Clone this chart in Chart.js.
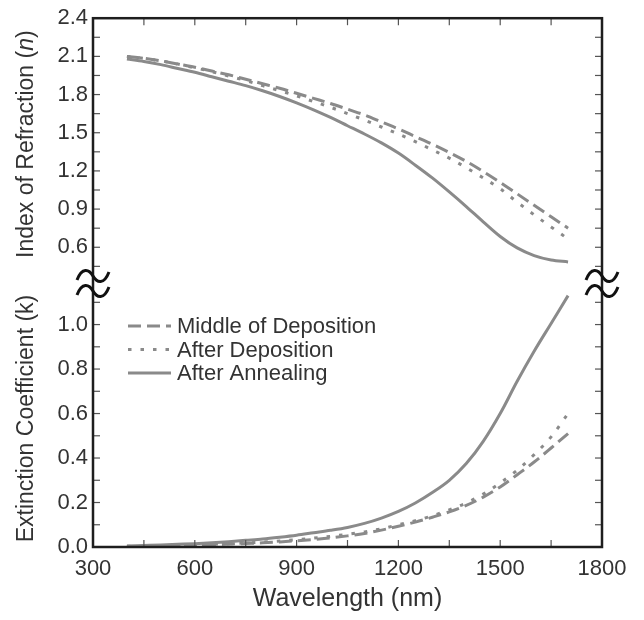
<!DOCTYPE html>
<html>
<head>
<meta charset="utf-8">
<script src="https://cdn.jsdelivr.net/npm/chart.js@4.4.1/dist/chart.umd.min.js"></script>
<style>
  html, body { margin: 0; padding: 0; background: #fff; }
  #wrap { width: 644px; height: 620px; }
</style>
</head>
<body>
<div id="wrap"><canvas id="chart" width="644" height="620"></canvas></div>
<script>
// Wavelength samples (nm) shared by every curve
const wavelength = [400, 450, 500, 550, 600, 650, 700, 750, 800, 850, 900, 950, 1000, 1050,
  1100, 1150, 1200, 1250, 1300, 1350, 1400, 1450, 1500, 1550, 1600, 1650, 1700];

// Index of refraction (n)
const nMiddle   = [2.10, 2.085, 2.065, 2.04, 2.015, 1.985, 1.955, 1.92, 1.885, 1.85, 1.81, 1.77, 1.73, 1.685,
  1.64, 1.585, 1.53, 1.47, 1.41, 1.345, 1.275, 1.195, 1.11, 1.02, 0.93, 0.84, 0.75];
const nAfterDep = [2.10, 2.085, 2.065, 2.04, 2.01, 1.98, 1.945, 1.91, 1.87, 1.83, 1.79, 1.745, 1.70, 1.65,
  1.60, 1.545, 1.49, 1.43, 1.365, 1.30, 1.225, 1.145, 1.06, 0.955, 0.855, 0.76, 0.665];
const nAnnealed = [2.08, 2.06, 2.035, 2.005, 1.975, 1.94, 1.905, 1.87, 1.83, 1.785, 1.735, 1.68, 1.62, 1.555,
  1.49, 1.42, 1.34, 1.245, 1.145, 1.035, 0.92, 0.80, 0.685, 0.595, 0.535, 0.50, 0.485];

// Extinction coefficient (k)
const kMiddle   = [0.002, 0.003, 0.005, 0.006, 0.008, 0.010, 0.013, 0.016, 0.019, 0.023, 0.028, 0.034, 0.041, 0.050,
  0.061, 0.076, 0.093, 0.112, 0.134, 0.158, 0.187, 0.224, 0.270, 0.325, 0.382, 0.445, 0.51];
const kAfterDep = [0.003, 0.004, 0.006, 0.008, 0.010, 0.012, 0.015, 0.018, 0.022, 0.027, 0.033, 0.040, 0.048, 0.057,
  0.068, 0.082, 0.100, 0.118, 0.140, 0.167, 0.198, 0.238, 0.288, 0.345, 0.415, 0.495, 0.60];
const kAnnealed = [0.005, 0.007, 0.009, 0.012, 0.015, 0.019, 0.024, 0.030, 0.036, 0.044, 0.053, 0.064, 0.075, 0.088,
  0.106, 0.130, 0.160, 0.198, 0.245, 0.300, 0.375, 0.475, 0.60, 0.745, 0.88, 1.005, 1.13];

const seriesLabels = ['Middle of Deposition', 'After Deposition', 'After Annealing'];

const xTicks = [300, 600, 900, 1200, 1500, 1800];
const nTicks = [0.6, 0.9, 1.2, 1.5, 1.8, 2.1, 2.4];
const kTicks = [0.0, 0.2, 0.4, 0.6, 0.8, 1.0];

/* ─── styling ─── */
const FONT = "'Liberation Sans', Arial, Helvetica, sans-serif";
const LINE_COLOR = '#8a8a8a';
const TEXT_COLOR = '#333';
const AXIS_COLOR = '#1e1e1e';
const DASHES = [[13, 6], [3.5, 9], []];

Chart.defaults.font.family = FONT;
Chart.defaults.color = TEXT_COLOR;

const toPoints = ys => wavelength.map((x, i) => ({ x, y: ys[i] }));

function makeSet(label, ys, axis, idx) {
  return {
    label,
    data: toPoints(ys),
    yAxisID: axis,
    borderColor: LINE_COLOR,
    borderWidth: 3,
    borderDash: DASHES[idx],
    borderCapStyle: 'butt',
    pointRadius: 0,
    fill: false,
    cubicInterpolationMode: 'monotone',
  };
}

const datasets = [
  makeSet(seriesLabels[0], nMiddle, 'n', 0),
  makeSet(seriesLabels[1], nAfterDep, 'n', 1),
  makeSet(seriesLabels[2], nAnnealed, 'n', 2),
  makeSet(seriesLabels[0], kMiddle, 'k', 0),
  makeSet(seriesLabels[1], kAfterDep, 'k', 1),
  makeSet(seriesLabels[2], kAnnealed, 'k', 2),
];

const fixTicks = list => scale => { scale.ticks = list.map(v => ({ value: v })); };

// frame, inward ticks, axis break, legend and the y titles
const framePlugin = {
  id: 'frame',
  afterDraw(chart) {
    const { ctx, chartArea: a, scales } = chart;
    const { x, n, k } = scales;
    ctx.save();

    const seg = (x1, y1, x2, y2) => { ctx.beginPath(); ctx.moveTo(x1, y1); ctx.lineTo(x2, y2); ctx.stroke(); };
    ctx.strokeStyle = '#555';
    ctx.lineWidth = 1.2;
    const TL = 7;

    const xStep = (xTicks[1] - xTicks[0]) / 2;
    for (let i = 1; xTicks[0] + i * xStep < xTicks[xTicks.length - 1]; i++) {
      const px = x.getPixelForValue(xTicks[0] + i * xStep);
      seg(px, a.top, px, a.top + TL);
      seg(px, a.bottom, px, a.bottom - TL);
    }
    const nStep = (nTicks[1] - nTicks[0]) / 2;
    for (let i = 1; i < 20; i++) {
      const v = nTicks[nTicks.length - 1] - i * nStep;
      if (v < n.min + 0.05) break;
      const py = n.getPixelForValue(v);
      seg(a.left, py, a.left + TL, py);
      seg(a.right, py, a.right - TL, py);
    }
    const kStep = (kTicks[1] - kTicks[0]) / 2;
    for (let i = 1; i * kStep < k.max; i++) {
      const py = k.getPixelForValue(i * kStep);
      seg(a.left, py, a.left + TL, py);
      seg(a.right, py, a.right - TL, py);
    }

    // frame
    ctx.strokeStyle = AXIS_COLOR;
    ctx.lineWidth = 2.5;
    ctx.strokeRect(a.left, a.top, a.width, a.height);

    // axis break marks
    const wave = (cx, cy) => {
      ctx.beginPath();
      ctx.moveTo(cx - 16, cy + 4);
      ctx.bezierCurveTo(cx - 11, cy - 9, cx - 4, cy - 7, cx, cy);
      ctx.bezierCurveTo(cx + 4, cy + 7, cx + 11, cy + 9, cx + 16, cy - 4);
      ctx.stroke();
    };
    ctx.lineWidth = 3;
    ctx.strokeStyle = '#111';
    const by = k.top;
    [a.left, a.right].forEach(cx => {
      wave(cx, by - 10);
      wave(cx, by + 5);
    });

    // legend
    ctx.font = `22px ${FONT}`;
    ctx.textBaseline = 'middle';
    ctx.textAlign = 'left';
    const lx = a.left + 35;
    seriesLabels.forEach((lab, i) => {
      const ly = k.top + 40 + i * 23.5;
      ctx.strokeStyle = LINE_COLOR;
      ctx.lineWidth = 3;
      ctx.setLineDash(DASHES[i]);
      seg(lx, ly, lx + 43, ly);
      ctx.setLineDash([]);
      ctx.fillStyle = TEXT_COLOR;
      ctx.fillText(lab, lx + 49, ly + 1);
    });

    // rotated y titles, with italic symbol
    const vTitle = (parts, cy, bx) => {
      ctx.save();
      ctx.translate(bx, cy);
      ctx.rotate(-Math.PI / 2);
      ctx.textBaseline = 'alphabetic';
      ctx.fillStyle = TEXT_COLOR;
      const widths = parts.map(([t, st]) => { ctx.font = `${st} 23px ${FONT}`; return ctx.measureText(t).width; });
      let cur = -widths.reduce((s, w) => s + w, 0) / 2;
      parts.forEach(([t, st], i) => {
        ctx.font = `${st} 23px ${FONT}`;
        ctx.fillText(t, cur, 0);
        cur += widths[i];
      });
      ctx.restore();
    };
    vTitle([['Index of Refraction (', 'normal'], ['n', 'italic'], [')', 'normal']], (n.top + n.bottom) / 2 - 8, 33);
    vTitle([['Extinction Coefficient (k)', 'normal']], (k.top + k.bottom) / 2 + 2, 33);

    ctx.restore();
  },
};

new Chart(document.getElementById('chart'), {
  type: 'line',
  data: { datasets },
  options: {
    responsive: false,
    animation: false,
    layout: { padding: { top: 16, right: 42, left: 0, bottom: 0 } },
    plugins: { legend: { display: false }, tooltip: { enabled: false } },
    scales: {
      x: {
        type: 'linear',
        min: 300,
        max: 1800,
        afterBuildTicks: fixTicks(xTicks),
        afterFit: s => { s.height = 73; },
        grid: { display: false, drawTicks: false },
        border: { display: false },
        ticks: { font: { size: 22 }, padding: 9, maxRotation: 0, autoSkip: false, callback: v => String(v) },
        title: { display: true, text: 'Wavelength (nm)', font: { size: 25 }, padding: { top: 0, bottom: 6 } },
      },
      k: {
        type: 'linear',
        position: 'left',
        stack: 'panels',
        stackWeight: 262,
        weight: 0,
        min: 0,
        max: 1.173,
        afterBuildTicks: fixTicks(kTicks),
        afterFit: s => { s.width = 93; },
        grid: { display: false, drawTicks: false },
        border: { display: false },
        ticks: { font: { size: 22 }, padding: 5, autoSkip: false, callback: v => v.toFixed(1) },
      },
      n: {
        type: 'linear',
        position: 'left',
        stack: 'panels',
        stackWeight: 269,
        weight: 1,
        min: 0.295,
        max: 2.4,
        afterBuildTicks: fixTicks(nTicks),
        afterFit: s => { s.width = 93; },
        grid: { display: false, drawTicks: false },
        border: { display: false },
        ticks: { font: { size: 22 }, padding: 5, autoSkip: false, callback: v => v.toFixed(1) },
      },
    },
  },
  plugins: [framePlugin],
});
</script>
</body>
</html>
